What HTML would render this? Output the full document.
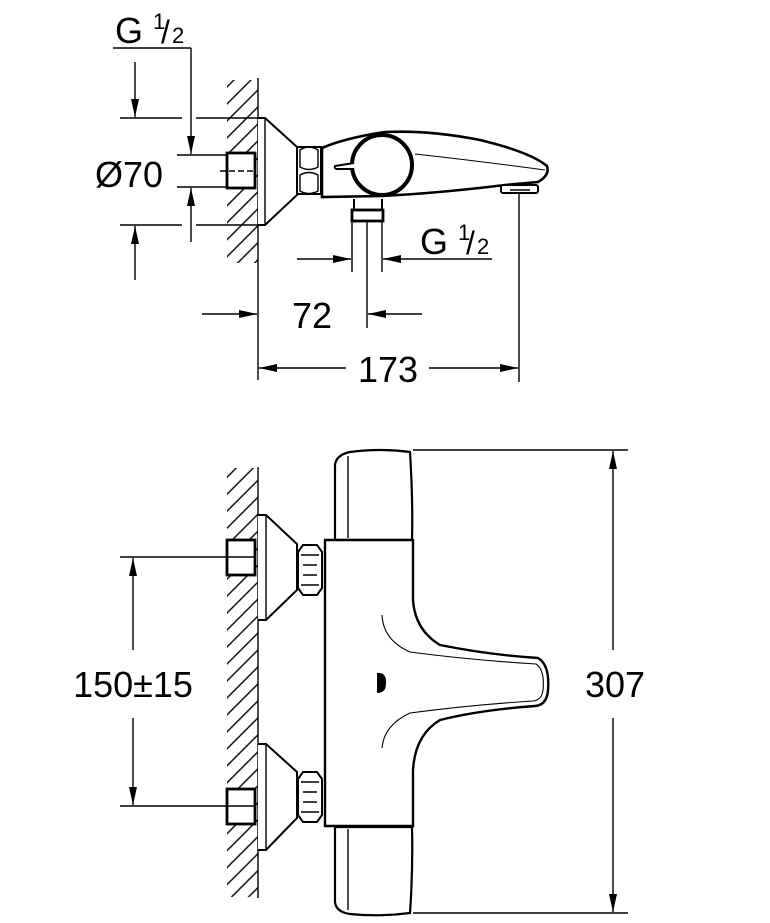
<!DOCTYPE html>
<html><head><meta charset="utf-8"><style>
html,body{margin:0;padding:0;background:#fff}
svg{display:block}
text{font-family:"Liberation Sans",sans-serif;fill:#000}
</style></head><body>
<svg width="770" height="923" viewBox="0 0 770 923" xmlns="http://www.w3.org/2000/svg">
<defs>
<marker id="a" viewBox="0 0 18 8" refX="18" refY="4" markerWidth="18" markerHeight="8" markerUnits="userSpaceOnUse" orient="auto"><path d="M0,0 L18,4 L0,8 z" fill="#000"/></marker>
<pattern id="h" width="12" height="12" patternUnits="userSpaceOnUse" patternTransform="rotate(-45)"><rect width="12" height="12" fill="#fff"/><line x1="0" y1="6" x2="12" y2="6" stroke="#000" stroke-width="1.4"/></pattern>
</defs>
<g fill="none" stroke="#000" stroke-width="1.4">
<rect x="227" y="80" width="31" height="183" fill="url(#h)" stroke="none"/>
<line x1="258" y1="78" x2="258" y2="380"/>
<line x1="113" y1="48" x2="191" y2="48"/>
<line x1="191" y1="48" x2="191" y2="154" marker-end="url(#a)"/>
<line x1="191" y1="242" x2="191" y2="188" marker-end="url(#a)"/>
<line x1="135" y1="62" x2="135" y2="117" marker-end="url(#a)"/>
<line x1="135" y1="280" x2="135" y2="226" marker-end="url(#a)"/>
<line x1="120" y1="118" x2="182" y2="118"/><line x1="196" y1="118" x2="258" y2="118"/>
<line x1="120" y1="225" x2="182" y2="225"/><line x1="196" y1="225" x2="258" y2="225"/>
<line x1="177" y1="155" x2="226" y2="155"/><line x1="177" y1="187" x2="226" y2="187"/>
<rect x="227" y="153" width="28" height="35" fill="#fff" stroke-width="2.8"/>
<line x1="220" y1="171" x2="256" y2="171" stroke-dasharray="6,3"/>
<path d="M258,118 L265,118 L297,147 L297,195 L265,225 L258,225" fill="#fff" stroke-width="2"/>
<line x1="265" y1="118" x2="265" y2="225"/>
<rect x="297" y="147" width="24" height="47" fill="#fff" stroke-width="2"/>
<path d="M300,150 Q309,144 318,150 L318,167 Q309,172 300,167 z M300,175 Q309,170 318,175 L318,191 Q309,196 300,191 z"/>
<path d="M322,148 Q345,138 385,132 Q430,130 480,140 Q530,152 547,166 Q550,175 538,182 L505,185 Q440,193 382,196 L322,197 z" fill="#fff" stroke-width="2.6"/>
<path d="M415,154 Q470,160 545,170" stroke-width="1"/>
<circle cx="382" cy="165" r="30" fill="#fff" stroke-width="4"/>
<path d="M354,163 L335,166 Q334,169 337,169 L354,169" fill="#fff" stroke-width="2"/>
<rect x="501" y="185" width="37" height="8" rx="2" fill="#fff" stroke-width="2"/>
<line x1="510" y1="190" x2="530" y2="190"/>
<path d="M354,199 L354,210 L382,210 L382,199" stroke-width="2"/>
<rect x="352" y="210" width="31" height="11" fill="#fff" stroke-width="2.8"/>
<line x1="352" y1="221" x2="352" y2="272"/><line x1="382" y1="221" x2="382" y2="272"/>
<line x1="367" y1="221" x2="367" y2="328"/>
<line x1="297" y1="259" x2="351" y2="259" marker-end="url(#a)"/>
<line x1="492" y1="259" x2="383" y2="259" marker-end="url(#a)"/>
<line x1="519" y1="192" x2="519" y2="382"/>
<line x1="202" y1="314" x2="257" y2="314" marker-end="url(#a)"/>
<line x1="422" y1="314" x2="368" y2="314" marker-end="url(#a)"/>
<line x1="346" y1="368" x2="259" y2="368" marker-end="url(#a)"/>
<line x1="429" y1="368" x2="518" y2="368" marker-end="url(#a)"/>

<rect x="227" y="468" width="31" height="429" fill="url(#h)" stroke="none"/>
<line x1="258" y1="467" x2="258" y2="898"/>
<path d="M258,515 L266,515 L297,544 L297,590 L266,620 L258,620" fill="#fff" stroke-width="2"/>
<line x1="266" y1="515" x2="266" y2="620"/>
<path d="M258,744 L266,744 L297,772 L297,818 L266,850 L258,850" fill="#fff" stroke-width="2"/>
<line x1="266" y1="744" x2="266" y2="850"/>
<path d="M303,545 L317,545 L322,552 L322,588 L317,595 L303,595 L298,588 L298,552 z" fill="#fff" stroke-width="2"/>
<path d="M301,555 L319,555 M301,585 L319,585 M303,565 L317,565 M303,575 L317,575"/>
<path d="M303,772 L317,772 L322,779 L322,815 L317,822 L303,822 L298,815 L298,779 z" fill="#fff" stroke-width="2"/>
<path d="M301,782 L319,782 M301,812 L319,812 M303,792 L317,792 M303,802 L317,802"/>
<rect x="227" y="540" width="28" height="35" fill="#fff" stroke-width="2.8"/>
<rect x="227" y="789" width="28" height="35" fill="#fff" stroke-width="2.8"/>
<line x1="120" y1="557" x2="255" y2="557"/>
<line x1="120" y1="806" x2="255" y2="806"/>
<path d="M335,540 L335,465 Q336,455 350,452 Q380,448 410,452 Q413,500 412,540 z" fill="#fff" stroke-width="2.2"/>
<line x1="348" y1="456" x2="348" y2="538"/>
<path d="M335,827 L335,902 Q336,912 350,914 Q380,917 410,913 Q413,870 412,827 z" fill="#fff" stroke-width="2.2"/>
<line x1="348" y1="829" x2="348" y2="910"/>
<path d="M325,540 L413,540 L413,600 Q415,630 440,645 Q490,655 538,658 Q550,665 548,690 Q547,705 535,706 Q480,710 440,720 Q415,735 413,770 L413,826 L325,826 z" fill="#fff" stroke-width="2.4"/>
<path d="M382,615 Q383,640 410,652 Q470,660 536,664 Q545,670 543,690 Q542,700 533,701 Q470,705 410,713 Q384,725 382,748" stroke-width="1.1"/>
<path d="M377,673 Q387,672 386,684 Q386,693 377,693 z" fill="#000" stroke="none"/>
<line x1="133" y1="650" x2="133" y2="558" marker-end="url(#a)"/>
<line x1="133" y1="718" x2="133" y2="805" marker-end="url(#a)"/>
<line x1="413" y1="450" x2="628" y2="450"/>
<line x1="413" y1="913" x2="628" y2="913"/>
<line x1="613" y1="650" x2="613" y2="451" marker-end="url(#a)"/>
<line x1="613" y1="718" x2="613" y2="912" marker-end="url(#a)"/>
</g>
<text x="115" y="43" font-size="36">G</text><text x="153" y="29" font-size="22">1</text><text x="161" y="43" font-size="32">/</text><text x="172" y="43" font-size="22">2</text>
<text x="95" y="187" font-size="36">Ø70</text>
<text x="420" y="254" font-size="36">G</text><text x="458" y="240" font-size="22">1</text><text x="466" y="254" font-size="32">/</text><text x="477" y="254" font-size="22">2</text>
<text x="312" y="328" font-size="36" text-anchor="middle">72</text>
<text x="388" y="382" font-size="36" text-anchor="middle">173</text>
<text x="133" y="697" font-size="36" text-anchor="middle">150±15</text>
<text x="615" y="697" font-size="36" text-anchor="middle">307</text>
</svg>
</body></html>
